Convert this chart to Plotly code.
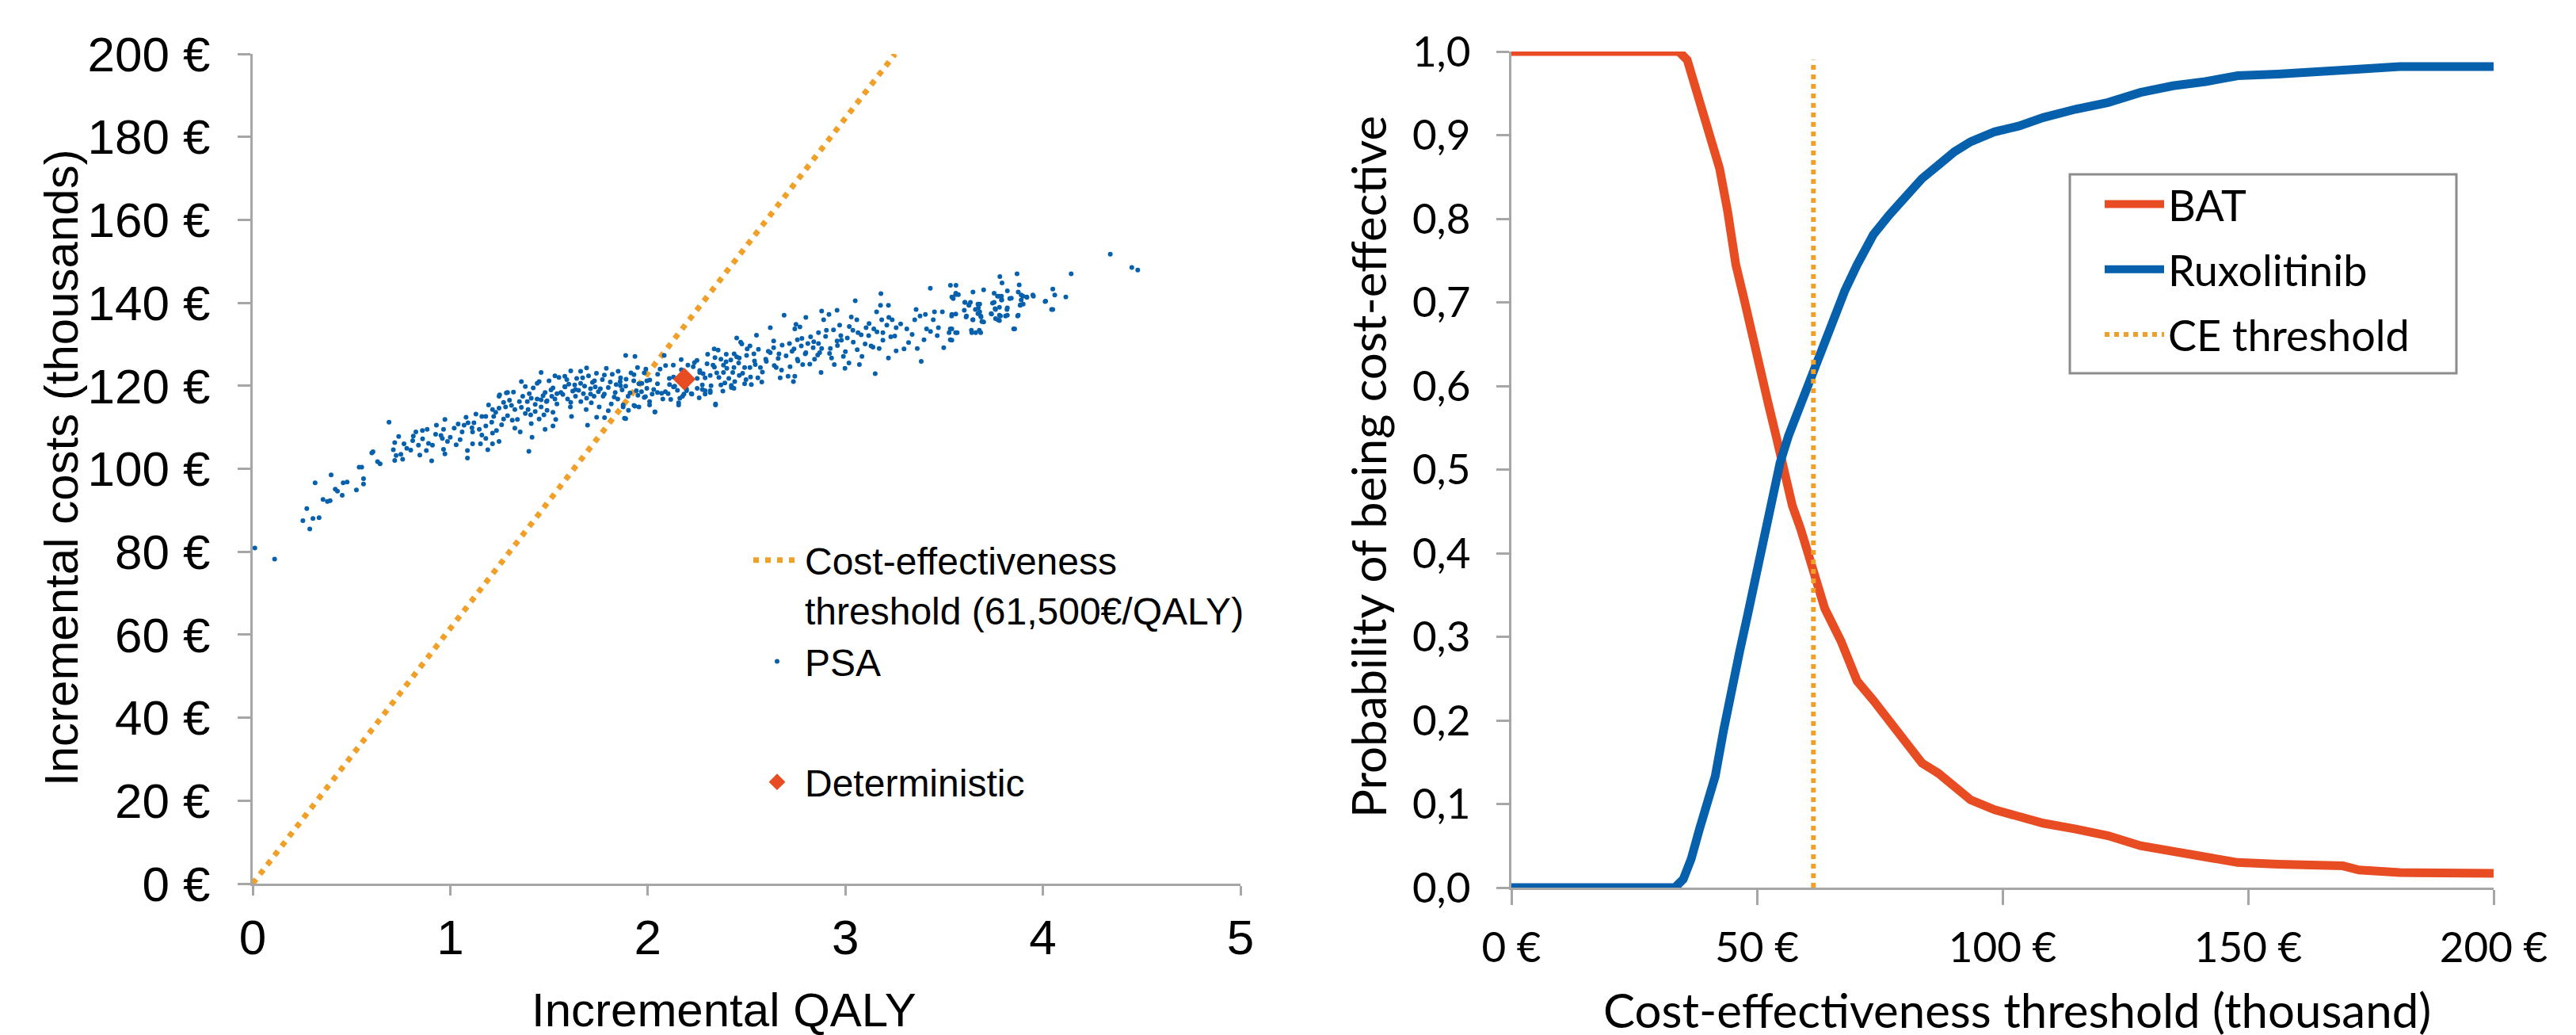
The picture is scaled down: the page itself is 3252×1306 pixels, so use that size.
import plotly.graph_objects as go

# ---------------- data : left panel (cost-effectiveness plane) ----------------
ce_line_qaly = [0.0, 3.252]          # threshold line 61,500 EUR/QALY
ce_line_cost = [0.0, 200.0]

det_qaly = [2.185]
det_cost = [121.6]

psa_tail = [
    (0.011, 80.9), (0.111, 78.2), (0.254, 87.5), (0.274, 90.4), (0.289, 85.5), (0.305, 88.0),
    (0.336, 88.2), (0.316, 96.6), (0.356, 92.6), (0.378, 92.1), (0.392, 92.3), (0.397, 98.5),
    (0.418, 95.1), (0.429, 94.6), (0.453, 93.6), (0.458, 96.6), (0.478, 96.8), (0.525, 94.9),
    (0.561, 96.3), (0.561, 97.6), (0.539, 100.4), (0.552, 100.4), (0.603, 103.8), (0.609, 104.1),
    (0.632, 101.7), (0.645, 101.2), (0.690, 111.2),
]

psa_low = [
    (0.739, 107.8), (0.719, 106.3), (0.712, 104.6), (0.726, 103.2), (0.719, 102.0), (0.759, 102.3),
    (0.750, 103.5), (0.766, 106.0), (0.813, 107.9), (0.826, 108.9), (0.859, 109.2), (0.883, 109.5),
    (0.839, 105.7), (0.846, 103.3), (0.800, 104.5), (0.879, 104.4), (0.906, 101.9), (0.910, 105.7),
    (0.926, 108.3), (0.953, 108.0), (0.973, 111.9), (0.966, 109.5), (0.986, 106.6), (0.966, 104.7),
    (0.973, 103.6), (1.020, 109.8), (1.040, 110.8), (1.070, 110.5), (1.090, 111.1), (1.050, 107.0),
    (1.087, 104.4), (1.087, 102.6), (1.113, 106.0), (1.113, 108.9), (1.120, 111.1), (1.147, 109.5),
    (1.153, 106.0), (1.180, 107.3), (1.190, 104.6), (1.160, 112.6), (1.180, 112.6), (1.194, 115.4),
    (1.214, 114.3), (1.220, 112.6), (1.247, 114.6), (1.247, 117.5), (1.284, 118.3), (1.270, 112.0),
    (1.234, 109.2), (1.247, 106.6), (1.214, 106.0), (1.214, 108.6), (1.280, 114.9), (1.300, 116.5),
    (1.327, 114.3), (1.314, 111.7), (1.327, 109.8), (1.354, 108.9), (1.367, 117.5), (1.380, 113.3),
    (1.400, 118.1), (1.394, 114.3), (1.407, 113.0), (1.414, 107.6), (1.398, 104.2), (1.440, 116.8),
    (1.460, 114.9), (1.450, 112.0), (1.474, 113.0), (1.480, 109.5), (1.487, 116.2), (1.514, 117.5),
    (1.520, 113.6), (1.540, 115.6), (1.534, 111.9), (1.520, 110.3), (1.540, 118.1), (1.581, 119.7),
    (1.594, 116.8), (1.608, 114.9), (1.614, 112.6), (1.634, 117.5), (1.634, 119.1), (1.661, 116.2),
    (1.674, 118.1), (1.688, 114.3), (1.695, 110.5), (1.714, 115.9), (1.728, 117.5), (1.734, 119.7),
    (1.741, 112.4), (1.754, 114.9), (1.774, 117.5), (1.781, 112.3), (1.800, 114.0), (1.815, 115.6),
    (1.835, 118.4), (1.848, 116.8), (1.862, 120.0), (1.875, 114.9), (1.888, 112.1), (1.900, 117.5),
    (1.930, 115.3), (1.942, 118.8), (1.955, 114.9), (1.982, 117.2), (1.995, 119.4), (2.009, 116.2),
    (2.036, 113.7), (2.049, 118.4), (2.076, 116.8), (2.103, 118.1), (2.130, 119.7), (2.156, 115.9),
    (2.176, 117.5), (2.196, 118.8), (2.220, 118.1), (2.250, 119.4), (2.290, 118.8), (2.316, 118.4),
    (1.00, 107.6), (1.03, 105.8), (1.06, 108.9), (1.08, 112.4), (1.11, 109.9), (1.13, 113.2),
    (1.16, 108.1), (1.18, 110.3), (1.21, 111.2), (1.23, 113.6), (1.26, 110.6), (1.29, 112.8),
    (1.31, 115.3), (1.34, 111.9), (1.36, 114.8), (1.39, 116.2), (1.41, 110.9), (1.43, 113.8),
    (1.46, 116.6), (1.49, 114.1), (0.78, 104.9), (0.81, 106.8), (0.86, 107.2), (0.89, 106.1),
    (0.93, 110.5), (0.96, 107.3),
]

psa_core = [
    (1.25, 117.8), (1.29, 118.4), (1.27, 116.0), (1.32, 118.5), (1.35, 116.2), (1.38, 119.8),
    (1.41, 117.0), (1.44, 120.6), (1.46, 123.2), (1.48, 118.4), (1.50, 121.2), (1.52, 119.5),
    (1.55, 122.0), (1.57, 117.9), (1.58, 122.3), (1.60, 120.4), (1.62, 118.7), (1.64, 121.8),
    (1.66, 123.5), (1.68, 119.9), (1.70, 122.4), (1.72, 120.8), (1.74, 123.0), (1.75, 118.6),
    (1.77, 121.5), (1.79, 124.2), (1.80, 119.6), (1.82, 122.8), (1.84, 120.3), (1.36, 121.0),
    (1.43, 115.5), (1.53, 116.8), (1.61, 116.0), (1.69, 117.0), (1.78, 118.0), (1.86, 121.0),
    (1.66, 120.6), (1.71, 119.3), (1.58, 119.8), (1.49, 116.4),
    (1.42, 119.5), (1.45, 121.0), (1.47, 117.6), (1.51, 119.0), (1.53, 122.4), (1.56, 118.4),
    (1.59, 121.5), (1.61, 123.6), (1.63, 120.2), (1.65, 118.9), (1.67, 121.9), (1.69, 124.3),
    (1.71, 118.0), (1.73, 121.2), (1.76, 119.3), (1.78, 122.6), (1.81, 120.9), (1.83, 117.3),
    (1.85, 123.5), (1.87, 119.0), (1.89, 121.6), (1.91, 118.3), (1.93, 122.7), (1.95, 117.7),
    (1.97, 120.6), (1.99, 124.0), (2.01, 121.4), (2.03, 119.1), (2.05, 122.8), (2.07, 118.2),
    (2.09, 124.9), (2.11, 120.3), (2.13, 122.1), (2.15, 118.9), (2.17, 123.9), (2.19, 119.8),
    (2.21, 121.7), (2.23, 124.6), (2.26, 117.1), (2.28, 122.9), (2.30, 125.3), (2.32, 120.0),
    (2.34, 126.8), (2.36, 122.0), (2.38, 118.7), (2.40, 124.2), (2.42, 126.2), (2.44, 121.0),
    (2.46, 125.5), (2.48, 123.0), (2.50, 127.3), (2.52, 122.1), (2.54, 126.0), (2.56, 128.8),
    (2.58, 123.3), (2.60, 125.9), (2.62, 128.0), (2.64, 124.9), (2.66, 126.6), (2.68, 129.8),
    (2.70, 127.2), (2.72, 124.6), (2.74, 128.9), (2.76, 126.0), (2.78, 131.4), (2.80, 128.0),
    (2.82, 125.2), (2.84, 130.6), (2.86, 127.4), (2.88, 129.0), (2.90, 131.9), (2.92, 127.8),
    (2.94, 133.5), (2.96, 129.7), (2.98, 131.0), (3.00, 128.2), (3.02, 134.3), (3.04, 130.5),
    (3.06, 128.7), (3.08, 132.3), (3.10, 130.1), (3.12, 135.0), (3.14, 129.3), (3.16, 133.0),
    (3.19, 131.0), (3.22, 136.5), (3.25, 132.0), (3.28, 134.9), (3.32, 130.4),
]

psa_mid = [
    (1.888, 127.3), (1.935, 127.1), (1.862, 121.9), (1.888, 119.9), (1.915, 123.1), (1.929, 121.2),
    (1.948, 124.4), (1.955, 120.5), (1.968, 118.6), (1.982, 123.1), (1.995, 121.2), (2.009, 115.4),
    (2.022, 118.0), (2.036, 113.7), (1.875, 115.4), (1.882, 112.2), (1.902, 114.1), (1.935, 115.1),
    (1.988, 117.4), (2.049, 120.5), (2.062, 124.0), (2.083, 127.3), (2.089, 118.6), (2.109, 121.8),
    (2.116, 116.7), (2.129, 125.0), (2.136, 119.9), (2.156, 115.4), (2.162, 117.0), (2.169, 126.3),
    (2.183, 118.0), (2.196, 119.2), (2.203, 125.0), (2.223, 118.0), (2.236, 125.6), (2.250, 121.8),
    (2.263, 123.7), (2.276, 120.2), (2.290, 118.0), (2.303, 127.6), (2.316, 122.5), (2.330, 125.0),
    (2.343, 115.4), (2.349, 123.1), (2.370, 120.2), (2.383, 125.0), (2.397, 127.6), (2.410, 121.8),
    (2.423, 119.6), (2.436, 124.4), (2.450, 127.0), (2.463, 122.5), (2.476, 130.1), (2.490, 120.5),
    (2.503, 128.9), (2.517, 124.4),
]

psa_high = [
    (2.249, 126.1), (2.263, 123.2), (2.290, 121.9), (2.276, 119.1), (2.316, 118.8), (2.343, 115.6),
    (2.337, 124.5), (2.336, 128.9), (2.356, 128.6), (2.370, 126.4), (2.383, 123.2), (2.396, 125.8),
    (2.390, 120.7), (2.423, 120.1), (2.436, 119.4), (2.430, 123.2), (2.437, 127.7), (2.463, 126.7),
    (2.470, 130.5), (2.490, 124.4), (2.497, 121.5), (2.517, 129.6), (2.524, 120.3), (2.537, 127.7),
    (2.544, 125.1), (2.557, 121.9), (2.570, 124.4), (2.577, 120.9), (2.597, 126.4), (2.610, 128.3),
    (2.637, 130.8), (2.637, 129.2), (2.650, 124.4), (2.664, 127.7), (2.677, 123.8), (2.670, 121.9),
    (2.710, 122.3), (2.744, 122.3), (2.737, 121.0), (2.717, 130.2), (2.744, 133.7), (2.770, 134.2),
    (2.730, 128.3), (2.757, 131.1), (2.757, 126.4), (2.777, 129.6), (2.784, 125.1), (2.797, 127.7),
    (2.810, 130.2), (2.824, 131.8), (2.837, 129.2), (2.844, 126.4), (2.864, 132.8), (2.864, 130.2),
    (2.870, 128.0), (2.877, 123.2), (2.890, 135.9), (2.904, 133.4), (2.917, 137.2), (2.924, 129.0),
    (2.930, 126.7), (2.944, 125.1), (2.958, 138.2), (2.958, 130.8), (2.971, 134.6), (2.977, 132.1),
    (2.990, 127.1), (2.998, 124.2), (3.010, 131.5), (3.018, 125.5), (3.038, 133.4), (3.030, 136.6),
    (3.058, 135.9), (3.064, 132.8), (3.071, 125.1), (3.084, 127.1), (3.105, 134.0), (3.118, 132.1),
    (3.130, 129.6), (3.144, 133.7), (3.151, 122.9), (3.158, 137.8), (3.171, 129.0), (3.178, 139.4),
    (3.184, 135.9), (3.190, 132.8), (3.218, 139.4), (3.218, 126.7), (3.210, 134.6), (3.230, 131.8),
    (3.237, 135.9), (3.257, 134.0), (3.257, 128.4), (3.297, 128.9), (3.311, 133.7), (3.338, 132.4),
    (3.351, 135.9), (3.358, 138.4), (3.364, 129.0), (3.378, 136.8), (3.384, 125.9), (3.398, 131.1),
    (3.405, 137.2), (3.411, 133.7), (3.431, 133.1), (3.445, 135.9), (3.451, 137.8), (3.465, 132.1),
    (3.471, 134.0), (3.491, 137.8), (3.498, 129.2), (3.525, 132.8), (3.531, 133.7), (3.531, 131.1),
    (3.538, 136.8), (3.558, 132.8), (3.539, 141.4), (3.558, 142.0), (3.604, 140.1), (3.611, 136.6),
    (3.625, 139.5), (3.638, 133.4), (3.645, 135.9), (3.658, 138.4), (3.671, 139.7), (3.671, 137.4),
    (3.678, 133.4), (3.685, 136.8), (3.691, 135.5), (3.738, 137.4), (3.745, 139.9), (3.758, 138.6),
    (3.772, 135.9), (3.778, 141.6), (3.785, 136.8), (3.792, 140.7), (3.811, 136.8), (3.818, 138.4),
    (3.832, 141.0), (3.852, 133.7), (3.872, 136.8), (3.885, 139.4), (3.899, 141.6), (3.919, 141.3),
    (3.952, 141.6), (4.011, 140.3), (4.044, 138.4),
    (3.18, 142.2), (3.05, 140.5), (3.43, 143.5), (3.56, 144.2), (2.88, 138.0), (2.80, 136.5),
    (2.75, 134.8), (2.62, 134.0), (2.55, 132.2), (2.45, 131.5), (2.69, 137.0),
]

psa_right = [
    (3.532, 144.2), (3.546, 141.0), (3.559, 142.3), (3.572, 142.0), (3.539, 137.2), (3.559, 137.3),
    (3.539, 133.7), (3.566, 132.8), (3.539, 131.0), (3.606, 140.1), (3.633, 140.1), (3.626, 139.4),
    (3.602, 138.2), (3.613, 136.8), (3.646, 142.6), (3.673, 138.8), (3.680, 139.7), (3.680, 137.8),
    (3.687, 136.6), (3.646, 135.9), (3.700, 135.4), (3.640, 132.8), (3.660, 132.8), (3.685, 132.8),
    (3.700, 143.1), (3.753, 142.3), (3.753, 140.1), (3.760, 138.4), (3.740, 137.3), (3.760, 136.2),
    (3.780, 138.9), (3.780, 135.7), (3.782, 146.3), (3.793, 144.8), (3.770, 141.6), (3.790, 141.6),
    (3.790, 140.7), (3.780, 137.0), (3.820, 142.9), (3.820, 138.8), (3.820, 137.0), (3.840, 141.1),
    (3.857, 133.7), (3.869, 147.0), (3.880, 144.3), (3.875, 142.6), (3.890, 141.9), (3.890, 140.7),
    (3.886, 139.5), (3.900, 139.7), (3.875, 137.0), (3.918, 141.4), (3.949, 141.9), (4.014, 140.4),
    (4.050, 143.3), (4.060, 141.9), (4.050, 138.4), (4.116, 141.4), (4.143, 147.0), (4.341, 151.7),
    (4.450, 148.5), (4.480, 147.9),
]

psa_points = psa_tail + psa_low + psa_core + psa_mid + psa_high + psa_right
psa_qaly = [p[0] for p in psa_points]
psa_cost = [p[1] for p in psa_points]

cost_ticks = [0, 20, 40, 60, 80, 100, 120, 140, 160, 180, 200]
cost_labels = ["0 €", "20 €", "40 €", "60 €", "80 €", "100 €", "120 €", "140 €", "160 €", "180 €", "200 €"]
qaly_ticks = [0, 1, 2, 3, 4, 5]

# ---------------- data : right panel (acceptability curves) ----------------
bat_wtp = [0, 34.1, 35.8, 37.4, 39.1, 40.7, 42.4, 44.0, 45.7, 47.3, 49.0, 50.6, 52.3, 53.9, 55.6,
           57.2, 58.9, 60.5, 62.2, 63.8, 67.1, 70.4, 73.7, 77.0, 80.3, 83.6, 86.9, 90.2, 93.5,
           98.4, 103.4, 108.3, 114.9, 121.5, 128.1, 134.7, 141.3, 147.9, 156.1, 169.3, 172.6,
           180.9, 200]
bat_prob = [1.0, 1.0, 0.99, 0.959, 0.919, 0.892, 0.86, 0.81, 0.745, 0.706, 0.659, 0.619, 0.579,
            0.54, 0.492, 0.457, 0.429, 0.40, 0.366, 0.334, 0.295, 0.247, 0.224, 0.20, 0.176,
            0.149, 0.137, 0.121, 0.105, 0.093, 0.085, 0.077, 0.07, 0.062, 0.05, 0.043, 0.036,
            0.03, 0.028, 0.026, 0.021, 0.018, 0.017]

rux_wtp = [0, 33.3, 35.0, 36.6, 38.3, 39.9, 41.5, 43.2, 44.9, 46.5, 48.1, 49.8, 51.5, 53.1, 54.7,
           56.4, 58.0, 59.7, 61.3, 63.0, 64.6, 66.3, 67.9, 70.4, 73.7, 77.0, 80.3, 83.6, 86.9,
           90.2, 93.5, 98.4, 103.4, 108.3, 114.9, 121.5, 128.1, 134.7, 141.3, 147.9, 156.1,
           169.3, 172.6, 180.9, 200]
rux_prob = [0.0, 0.0, 0.01, 0.034, 0.07, 0.10, 0.133, 0.188, 0.243, 0.283, 0.326, 0.374, 0.417,
            0.465, 0.508, 0.54, 0.564, 0.587, 0.611, 0.639, 0.666, 0.69, 0.714, 0.745, 0.781,
            0.805, 0.828, 0.848, 0.864, 0.88, 0.892, 0.904, 0.911, 0.921, 0.931, 0.939, 0.951,
            0.959, 0.964, 0.971, 0.973, 0.976, 0.979, 0.982, 0.982]

ce_threshold_wtp = [61.5, 61.5]
ce_threshold_prob = [0.0, 0.99]

wtp_ticks = [0, 50, 100, 150, 200]
wtp_labels = ["0 €", "50 €", "100 €", "150 €", "200 €"]
prob_ticks = [0, 0.1, 0.2, 0.3, 0.4, 0.5, 0.6, 0.7, 0.8, 0.9, 1.0]
prob_labels = ["0,0", "0,1", "0,2", "0,3", "0,4", "0,5", "0,6", "0,7", "0,8", "0,9", "1,0"]

# ---------------- styling ----------------
W, H = 3252, 1306
OFF = 8  # page body margin of the html page


def fx(p):
    return (p - OFF) / W


def fy(p):
    return 1 - (p - OFF) / H


BLUE = "#0660AC"
RED = "#E84C22"
ORANGE = "#F0A028"
AXIS = "#A6A6A6"
LEFT_FONT = "Liberation Sans, Arial, sans-serif"
RIGHT_FONT = "Lato, Carlito, sans-serif"

fig = go.Figure()

fig.add_trace(go.Scatter(
    x=ce_line_qaly, y=ce_line_cost, mode="lines", xaxis="x", yaxis="y",
    line=dict(color=ORANGE, width=7, dash="7px,8px"),
    name="Cost-effectiveness<br>threshold (61,500€/QALY)", legend="legend"))
fig.add_trace(go.Scatter(
    x=psa_qaly, y=psa_cost, mode="markers", xaxis="x", yaxis="y",
    marker=dict(color=BLUE, size=6), name="PSA", legend="legend"))
fig.add_trace(go.Scatter(
    x=det_qaly, y=det_cost, mode="markers", xaxis="x", yaxis="y",
    marker=dict(color=RED, size=22, symbol="diamond"), name="Deterministic", legend="legend3"))

fig.add_trace(go.Scatter(
    x=bat_wtp, y=bat_prob, mode="lines", xaxis="x2", yaxis="y2",
    line=dict(color=RED, width=11), name="BAT", legend="legend2", legendgroup="g1"))
fig.add_trace(go.Scatter(
    x=rux_wtp, y=rux_prob, mode="lines", xaxis="x2", yaxis="y2",
    line=dict(color=BLUE, width=11), name="Ruxolitinib", legend="legend2", legendgroup="g2"))
fig.add_trace(go.Scatter(
    x=ce_threshold_wtp, y=ce_threshold_prob, mode="lines", xaxis="x2", yaxis="y2",
    line=dict(color=ORANGE, width=6, dash="6px,6px"), name="CE threshold",
    legend="legend2", legendgroup="g3"))

axis_common = dict(showline=True, linecolor=AXIS, linewidth=3, showgrid=False, zeroline=False,
                   ticks="outside", tickcolor=AXIS, tickwidth=3, automargin=False)

fig.update_layout(
    width=W, height=H,
    margin=dict(l=0, r=0, t=0, b=0, autoexpand=False),
    paper_bgcolor="white", plot_bgcolor="white",
    xaxis=dict(domain=[fx(319), fx(1566)], range=[0, 5], tickvals=qaly_ticks, anchor="y",
               ticklen=12, ticklabelstandoff=0,
               tickfont=dict(family=LEFT_FONT, size=62, color="black"), **axis_common),
    yaxis=dict(domain=[fy(1115), fy(68)], range=[0, 200], tickvals=cost_ticks,
               ticktext=cost_labels, anchor="x", ticklen=16, ticklabelstandoff=22,
               tickfont=dict(family=LEFT_FONT, size=62, color="black"), **axis_common),
    xaxis2=dict(domain=[fx(1908), fx(3148)], range=[0, 200], tickvals=wtp_ticks,
                ticktext=wtp_labels, anchor="y2", ticklen=19, ticklabelstandoff=8,
                tickfont=dict(family=RIGHT_FONT, size=53, color="black"), **axis_common),
    yaxis2=dict(domain=[fy(1120), fy(65)], range=[0, 1], tickvals=prob_ticks,
                ticktext=prob_labels, anchor="x2", ticklen=16, ticklabelstandoff=22,
                tickfont=dict(family=RIGHT_FONT, size=53, color="black"), **axis_common),
    legend=dict(x=fx(946), y=fy(669), xanchor="left", yanchor="top", valign="top",
                bgcolor="rgba(0,0,0,0)", borderwidth=0, itemwidth=60, tracegroupgap=0,
                font=dict(family=LEFT_FONT, size=48, color="black")),
    legend3=dict(x=fx(946), y=fy(949), xanchor="left", yanchor="top",
                 bgcolor="rgba(0,0,0,0)", borderwidth=0, itemwidth=60,
                 font=dict(family=LEFT_FONT, size=48, color="black")),
    legend2=dict(x=fx(2652), y=fy(216), xanchor="left", yanchor="top",
                 bgcolor="rgba(0,0,0,0)", borderwidth=0, itemwidth=75,
                 tracegroupgap=9,
                 font=dict(family=RIGHT_FONT, size=54, color="black")),
    shapes=[
        dict(type="rect", xref="paper", yref="paper", x0=fx(2613), x1=fx(3101),
             y0=fy(471), y1=fy(220), line=dict(color="#8C8C8C", width=3),
             fillcolor="white", layer="below"),
    ],
    annotations=[
        dict(text="Incremental costs (thousands)", x=fx(77), y=fy(590), xref="paper",
             yref="paper", textangle=-90, showarrow=False, xanchor="center", yanchor="middle",
             font=dict(family=LEFT_FONT, size=60, color="black")),
        dict(text="Incremental QALY", x=fx(914), y=fy(1274), xref="paper", yref="paper",
             showarrow=False, xanchor="center", yanchor="middle",
             font=dict(family=LEFT_FONT, size=60, color="black")),
        dict(text="Probability of being cost-effective", x=fx(1727), y=fy(589),
             xref="paper", yref="paper", textangle=-90, showarrow=False, xanchor="center",
             yanchor="middle", font=dict(family=RIGHT_FONT, size=60, color="black")),
        dict(text="Cost-effectiveness threshold (thousand)", x=fx(2546), y=fy(1274),
             xref="paper", yref="paper", showarrow=False, xanchor="center", yanchor="middle",
             font=dict(family=RIGHT_FONT, size=60, color="black")),
    ],
)

fig.write_html("out.html")
